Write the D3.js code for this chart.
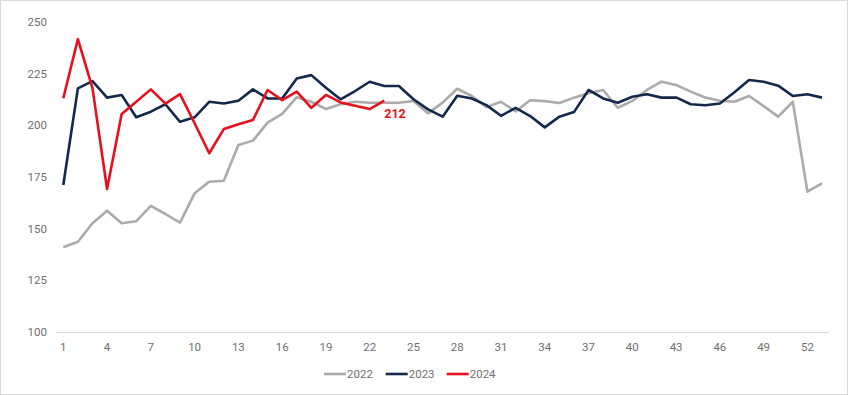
<!DOCTYPE html>
<html>
<head>
<meta charset="utf-8">
<script src="https://cdn.jsdelivr.net/npm/d3@7"></script>
<style>
    body { margin: 0; background: #fff; }
    #chart text { font-family: Roboto, "Open Sans", sans-serif; }
</style>
</head>
<body>
<div id="chart"></div>
<script>
// weekly values
const weeks = d3.range(1, 54);
const xTickWeeks = d3.range(1, 53, 3);
const yTicks = [100, 125, 150, 175, 200, 225, 250];

const values2022 = [141, 143.7, 152.6, 158.7, 152.6, 153.6, 161, 157.1, 152.9, 167.1,
    172.7, 173.2, 190.5, 192.6, 201.3, 205.5, 213.6, 211.4, 207.9, 210.2,
    211.4, 210.9, 210.9, 210.9, 211.8, 205.8, 211, 217.7, 214.2, 208.8,
    211.4, 206.7, 212.1, 211.7, 210.8, 213.4, 215.5, 217.1, 208.5, 211.8,
    217.1, 221.1, 219.5, 216.3, 213.5, 211.9, 211.4, 214.2, 209.3, 204.2,
    211.4, 167.9, 171.9];
const values2023 = [171.1, 217.9, 221.4, 213.4, 214.7, 203.9, 206.6, 210.2, 201.7, 203.9,
    211.4, 210.6, 211.9, 217.4, 213, 213, 222.7, 224.3, 218.2, 212.6,
    216.6, 221.1, 219, 219, 212.6, 207.7, 204.2, 214.3, 213, 209.8,
    204.6, 208.5, 204.5, 199, 204.2, 206.4, 217.1, 213, 210.9, 213.8,
    215, 213.4, 213.5, 210.2, 209.7, 210.6, 216, 221.9, 221.1, 219.2,
    214.2, 215, 213.4];
const values2024 = [213.1, 241.7, 218, 169.2, 205.5, 211.4, 217.4, 210.5, 215.1, 201,
    186.5, 198.2, 200.5, 202.6, 217.1, 212.2, 216.3, 208.5, 214.7, 211.1,
    209.5, 207.9, 211.9];

const seriesNames = ['2022', '2023', '2024'];
const seriesColors = ['#ababab', '#14284b', '#e8101c'];
const seriesValues = [values2022, values2023, values2024];

const width = 848,
    height = 395,
    axisLeft = 56,
    axisRight = 829,
    labelColor = '#6f6f6f';

const x = d3.scaleLinear()
    .domain([1, 53])
    .range([63.3, 822]);

const y = d3.scaleLinear()
    .domain([100, 250])
    .range([332, 22]);

const svg = d3.select('#chart').append('svg')
    .attr('width', width)
    .attr('height', height);

// outer frame
svg.append('rect')
    .attr('x', 0.5)
    .attr('y', 0.5)
    .attr('width', width - 1)
    .attr('height', height - 1)
    .attr('fill', '#fff')
    .attr('stroke', '#d9d9d9');

// y labels, no gridlines
svg.append('g')
    .selectAll('text')
    .data(yTicks).enter()
    .append('text')
    .attr('x', 47)
    .attr('y', d => y(d) + 4)
    .attr('text-anchor', 'end')
    .attr('font-size', 11.5)
    .attr('fill', labelColor)
    .text(d => d);

// x axis line
svg.append('line')
    .attr('x1', axisLeft)
    .attr('x2', axisRight)
    .attr('y1', y(100) + 0.5)
    .attr('y2', y(100) + 0.5)
    .attr('stroke', '#d9d9d9')
    .attr('stroke-width', 1);

svg.append('g')
    .selectAll('text')
    .data(xTickWeeks).enter()
    .append('text')
    .attr('x', d => x(d))
    .attr('y', 351)
    .attr('text-anchor', 'middle')
    .attr('font-size', 11.5)
    .attr('fill', labelColor)
    .text(d => d);

const line = d3.line()
    .x((d, i) => x(weeks[i]))
    .y(d => y(d));

svg.append('g')
    .selectAll('path')
    .data(seriesValues).enter()
    .append('path')
    .attr('d', d => line(d))
    .attr('fill', 'none')
    .attr('stroke', (d, i) => seriesColors[i])
    .attr('stroke-width', 2.6)
    .attr('stroke-linejoin', 'round');

// last value label for 2024
const lastIdx = values2024.length - 1;
svg.append('text')
    .attr('x', x(weeks[lastIdx]))
    .attr('y', y(values2024[lastIdx]) + 17)
    .attr('font-size', 12.5)
    .attr('font-weight', 'bold')
    .attr('fill', seriesColors[2])
    .text(Math.round(values2024[lastIdx]));

// legend
const legendX = [324, 385.7, 446.7];
const legend = svg.append('g')
    .selectAll('g')
    .data(seriesNames).enter()
    .append('g')
    .attr('transform', (d, i) => 'translate(' + legendX[i] + ',374)');

legend.append('line')
    .attr('x1', 0)
    .attr('x2', 22)
    .attr('y1', 0)
    .attr('y2', 0)
    .attr('stroke', (d, i) => seriesColors[i])
    .attr('stroke-width', 2.6);

legend.append('text')
    .attr('x', 23)
    .attr('y', 4)
    .attr('font-size', 11.5)
    .attr('fill', labelColor)
    .text(d => d);
</script>
</body>
</html>
